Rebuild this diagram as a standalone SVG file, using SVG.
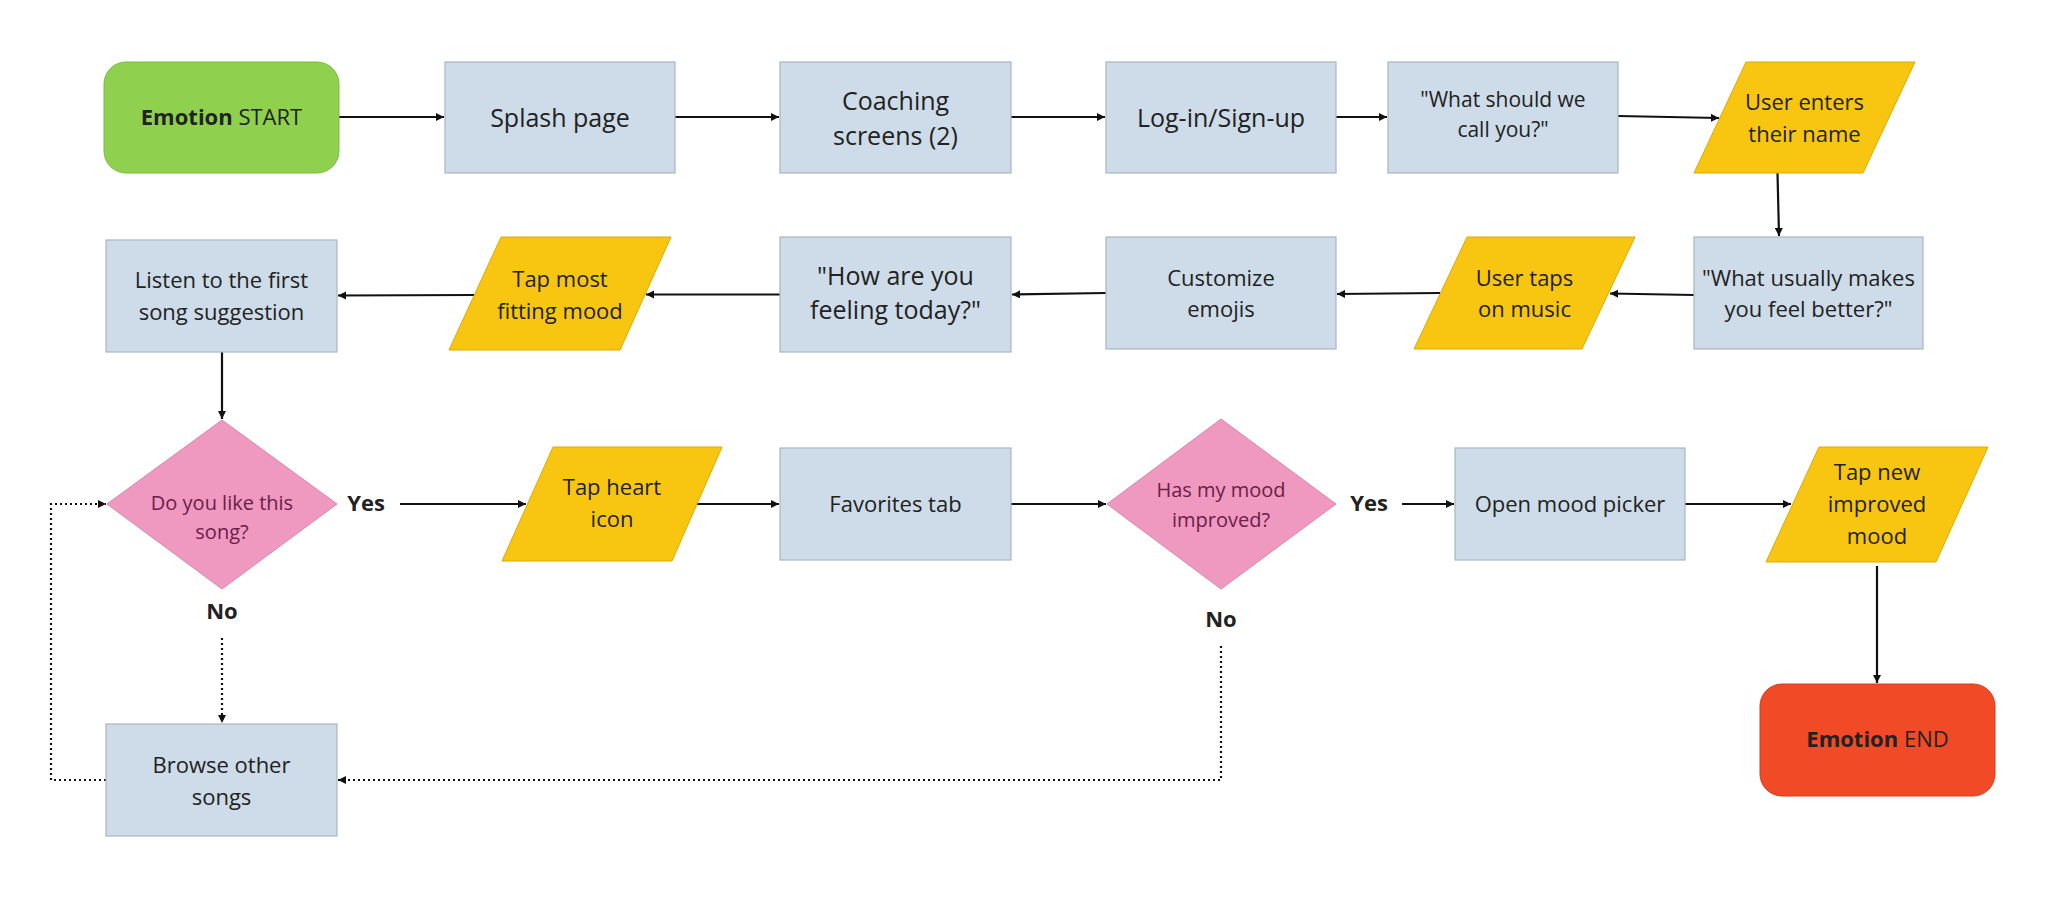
<svg xmlns="http://www.w3.org/2000/svg" width="2048" height="908" viewBox="0 0 2048 908">
<defs>
<style>
.t{font-family:"Open Sans","Noto Sans","DejaVu Sans",sans-serif;font-size:22px;fill:#222;text-anchor:middle}
.big{font-size:25px}
.sm{font-size:21px}
.dt{font-size:20px;fill:#6b2048}
.b{font-weight:bold}
.box{fill:#cddce8;stroke:#aab6c2;stroke-width:1.2}
.par{fill:#f8c611;stroke:#dcaa00;stroke-width:1}
.dia{fill:#ef98c0;stroke:#d986ad;stroke-width:1}
.ln{fill:none;stroke:#111;stroke-width:2.2}
.dot{fill:none;stroke:#111;stroke-width:2.2;stroke-dasharray:2 3}
</style>
<marker id="ah" viewBox="0 0 10 10" refX="10" refY="5" markerWidth="3.7" markerHeight="3.7" orient="auto" markerUnits="strokeWidth">
<path d="M0,0 L10,5 L0,10 z" fill="#111"/>
</marker>
</defs>
<rect width="2048" height="908" fill="#fff"/>

<g id="connectors">
<line class="ln" x1="339" y1="117" x2="444" y2="117" marker-end="url(#ah)"/>
<line class="ln" x1="675" y1="117" x2="779" y2="117" marker-end="url(#ah)"/>
<line class="ln" x1="1011" y1="117" x2="1105" y2="117" marker-end="url(#ah)"/>
<line class="ln" x1="1336" y1="117" x2="1387" y2="117" marker-end="url(#ah)"/>
<line class="ln" x1="1618" y1="116" x2="1719" y2="118" marker-end="url(#ah)"/>
<line class="ln" x1="1777.5" y1="173" x2="1779" y2="236" marker-end="url(#ah)"/>
<line class="ln" x1="1694" y1="295" x2="1610" y2="293.5" marker-end="url(#ah)"/>
<line class="ln" x1="1440" y1="293" x2="1337" y2="294" marker-end="url(#ah)"/>
<line class="ln" x1="1106" y1="293" x2="1012" y2="294.5" marker-end="url(#ah)"/>
<line class="ln" x1="780" y1="294.5" x2="646" y2="294.5" marker-end="url(#ah)"/>
<line class="ln" x1="475" y1="295" x2="338" y2="295.5" marker-end="url(#ah)"/>
<line class="ln" x1="222" y1="352" x2="222" y2="419" marker-end="url(#ah)"/>
<line class="ln" x1="400" y1="504" x2="526" y2="504" marker-end="url(#ah)"/>
<line class="ln" x1="697" y1="504" x2="779" y2="504" marker-end="url(#ah)"/>
<line class="ln" x1="1011" y1="504" x2="1106" y2="504" marker-end="url(#ah)"/>
<line class="ln" x1="1402" y1="504" x2="1454" y2="504" marker-end="url(#ah)"/>
<line class="ln" x1="1685" y1="504" x2="1791" y2="504" marker-end="url(#ah)"/>
<line class="ln" x1="1877" y1="566" x2="1877" y2="683" marker-end="url(#ah)"/>
<line class="dot" x1="222" y1="638" x2="222" y2="723" marker-end="url(#ah)"/>
<polyline class="dot" points="1221,646 1221,780 338,780" marker-end="url(#ah)"/>
<polyline class="dot" points="106,780 51,780 51,504 106,504" marker-end="url(#ah)"/>
</g>

<g id="start">
<rect x="104" y="62" width="235" height="111" rx="22" fill="#8fd14f" stroke="#7cbb3f" stroke-width="1"/>
<text class="t" x="221.5" y="125"><tspan class="b">Emotion</tspan> START</text>
</g>
<g id="splash">
<rect class="box" x="445" y="62" width="230" height="111"/>
<text class="t big" x="560" y="127">Splash page</text>
</g>
<g id="coaching">
<rect class="box" x="780" y="62" width="231" height="111"/>
<text class="t big" x="895.5" y="110">Coaching</text>
<text class="t big" x="895.5" y="145">screens (2)</text>
</g>
<g id="login">
<rect class="box" x="1106" y="62" width="230" height="111"/>
<text class="t big" x="1221" y="127">Log-in/Sign-up</text>
</g>
<g id="callyou">
<rect class="box" x="1388" y="62" width="230" height="111"/>
<text class="t sm" x="1503" y="107">"What should we</text>
<text class="t sm" x="1503" y="137">call you?"</text>
</g>
<g id="entername">
<polygon class="par" points="1746,62 1915,62 1863,173 1694,173"/>
<text class="t" x="1804.5" y="110">User enters</text>
<text class="t" x="1804.5" y="142">their name</text>
</g>
<g id="feelbetter">
<rect class="box" x="1694" y="237" width="229" height="112"/>
<text class="t" x="1808.5" y="286">"What usually makes</text>
<text class="t" x="1808.5" y="317">you feel better?"</text>
</g>
<g id="tapmusic">
<polygon class="par" points="1467,237 1635,237 1582,349 1414,349"/>
<text class="t" x="1524.5" y="286">User taps</text>
<text class="t" x="1524.5" y="317">on music</text>
</g>
<g id="emojis">
<rect class="box" x="1106" y="237" width="230" height="112"/>
<text class="t" x="1221" y="286">Customize</text>
<text class="t" x="1221" y="317">emojis</text>
</g>
<g id="feeling">
<rect class="box" x="780" y="237" width="231" height="115"/>
<text class="t big" x="895.5" y="285">"How are you</text>
<text class="t big" x="895.5" y="319">feeling today?"</text>
</g>
<g id="tapmost">
<polygon class="par" points="501,237 671,237 620,350 449,350"/>
<text class="t" x="560" y="287">Tap most</text>
<text class="t" x="560" y="319">fitting mood</text>
</g>
<g id="listen">
<rect class="box" x="106" y="240" width="231" height="112"/>
<text class="t" x="221.5" y="288">Listen to the first</text>
<text class="t" x="221.5" y="320">song suggestion</text>
</g>
<g id="likesong">
<polygon class="dia" points="222,420 337,504 222,589 107,504"/>
<text class="t dt" x="222" y="510">Do you like this</text>
<text class="t dt" x="222" y="539">song?</text>
</g>
<g id="yes1"><text class="t b" x="366" y="511">Yes</text></g>
<g id="no1"><text class="t b" x="222" y="619">No</text></g>
<g id="tapheart">
<polygon class="par" points="553,447 722,447 672,561 502,561"/>
<text class="t" x="612" y="495">Tap heart</text>
<text class="t" x="612" y="527">icon</text>
</g>
<g id="favorites">
<rect class="box" x="780" y="448" width="231" height="112"/>
<text class="t" x="895.5" y="512">Favorites tab</text>
</g>
<g id="improved">
<polygon class="dia" points="1221,419 1336,504 1221,589 1107,504"/>
<text class="t dt" x="1221" y="497">Has my mood</text>
<text class="t dt" x="1221" y="527">improved?</text>
</g>
<g id="yes2"><text class="t b" x="1369" y="511">Yes</text></g>
<g id="no2"><text class="t b" x="1221" y="627">No</text></g>
<g id="moodpicker">
<rect class="box" x="1455" y="448" width="230" height="112"/>
<text class="t" x="1570" y="512">Open mood picker</text>
</g>
<g id="tapnew">
<polygon class="par" points="1819,447 1988,447 1936,562 1766,562"/>
<text class="t" x="1877" y="480">Tap new</text>
<text class="t" x="1877" y="512">improved</text>
<text class="t" x="1877" y="544">mood</text>
</g>
<g id="end">
<rect x="1760" y="684" width="235" height="112" rx="22" fill="#f04a26" stroke="#d93b1c" stroke-width="1"/>
<text class="t" x="1877.5" y="747"><tspan class="b">Emotion</tspan> END</text>
</g>
<g id="browse">
<rect class="box" x="106" y="724" width="231" height="112"/>
<text class="t" x="221.5" y="773">Browse other</text>
<text class="t" x="221.5" y="805">songs</text>
</g>
</svg>
